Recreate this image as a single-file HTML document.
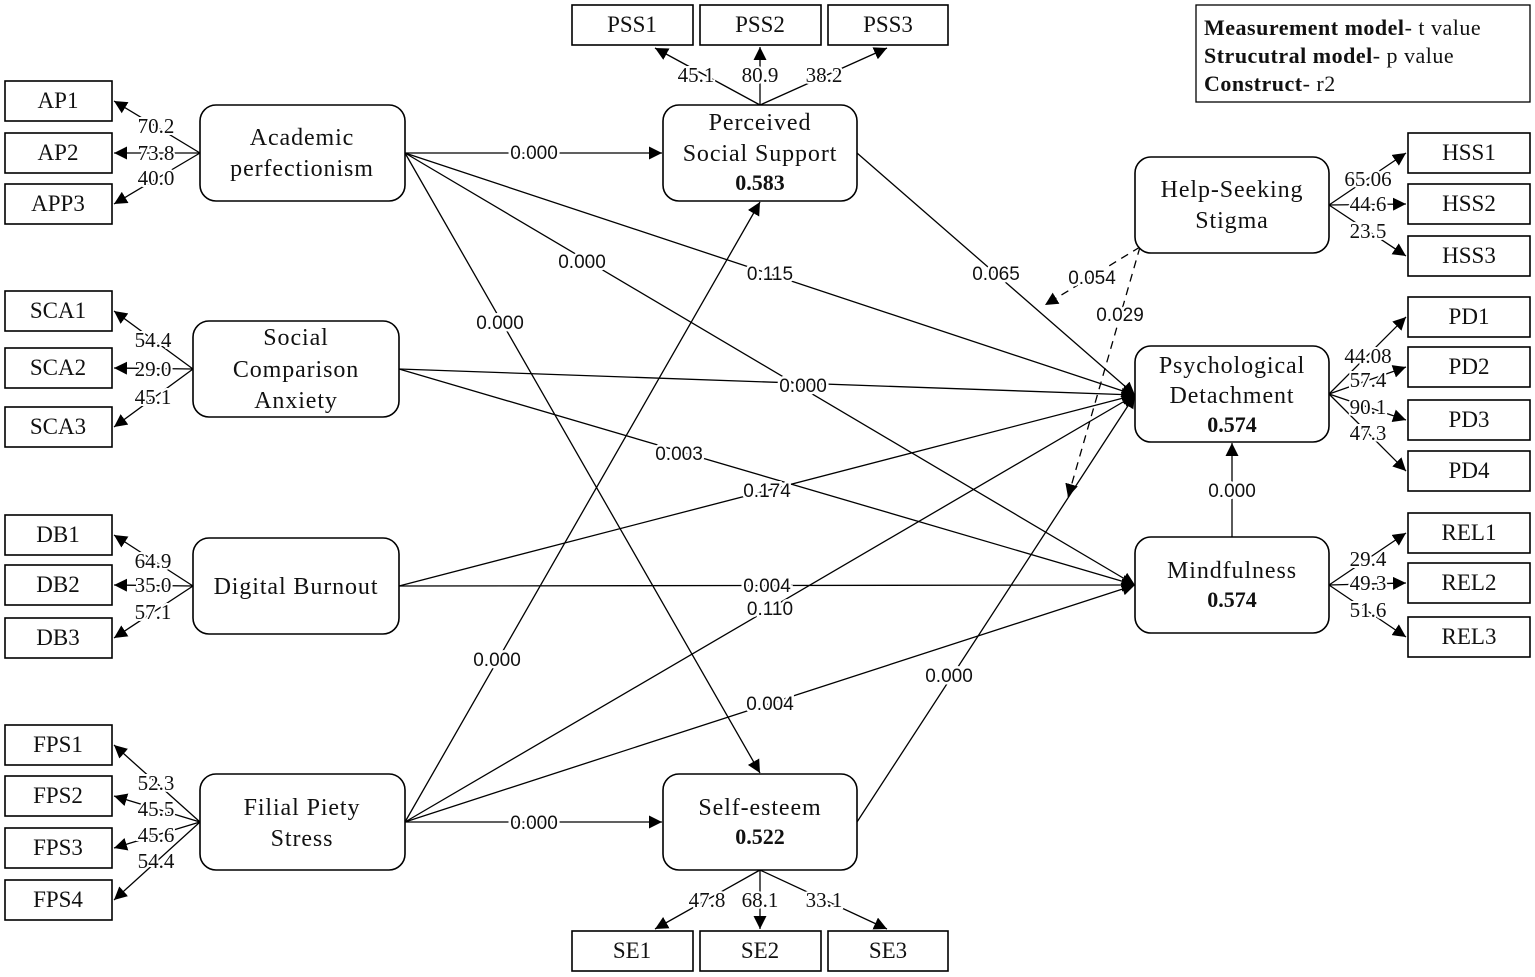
<!DOCTYPE html>
<html><head><meta charset="utf-8"><style>
html,body{margin:0;padding:0;background:#fff;}
svg{display:block;}
.b{fill:#fff;stroke:#000;stroke-width:1.6;}
.t{font-family:"Liberation Serif",serif;font-size:24px;letter-spacing:0.9px;fill:#111;text-anchor:middle;}
.ti{font-family:"Liberation Serif",serif;font-size:23px;fill:#111;text-anchor:middle;}
.tb{font-family:"Liberation Serif",serif;font-size:22px;font-weight:bold;fill:#111;text-anchor:middle;}
.l{stroke:#000;stroke-width:1.3;fill:none;marker-end:url(#ah);}
.d{stroke:#000;stroke-width:1.3;fill:none;stroke-dasharray:8,6;marker-end:url(#ah);}
.n{font-family:"Liberation Sans",sans-serif;font-size:19px;fill:#111;text-anchor:middle;paint-order:stroke;stroke:#fff;stroke-width:5px;}
.s{font-family:"Liberation Serif",serif;font-size:21px;fill:#111;text-anchor:middle;paint-order:stroke;stroke:#fff;stroke-width:4px;}
.lg{font-family:"Liberation Serif",serif;font-size:22px;letter-spacing:0.5px;fill:#111;}
</style></head><body>
<svg width="1535" height="977" viewBox="0 0 1535 977" xmlns="http://www.w3.org/2000/svg">
<defs><marker id="ah" viewBox="0 0 10 10" refX="10" refY="5" markerWidth="13" markerHeight="13" markerUnits="userSpaceOnUse" orient="auto"><path d="M0,0 L10,5 L0,10 z" fill="#000"/></marker></defs>

<line class="l" x1="405" y1="153" x2="662" y2="153"/>
<line class="l" x1="405" y1="153" x2="1135" y2="395"/>
<line class="l" x1="405" y1="153" x2="1135" y2="585"/>
<line class="l" x1="405" y1="153" x2="760" y2="773"/>
<line class="l" x1="399" y1="369" x2="1135" y2="395"/>
<line class="l" x1="399" y1="369" x2="1135" y2="585"/>
<line class="l" x1="399" y1="586" x2="1135" y2="395"/>
<line class="l" x1="399" y1="586" x2="1135" y2="585"/>
<line class="l" x1="405" y1="822" x2="760" y2="202"/>
<line class="l" x1="405" y1="822" x2="1135" y2="395"/>
<line class="l" x1="405" y1="822" x2="1135" y2="585"/>
<line class="l" x1="405" y1="822" x2="662" y2="822"/>
<line class="l" x1="857" y1="153" x2="1135" y2="395"/>
<line class="l" x1="857" y1="822" x2="1135" y2="395"/>
<line class="l" x1="1232" y1="537" x2="1232" y2="443"/>
<line class="d" x1="1140" y1="247" x2="1045" y2="305"/>
<line class="d" x1="1140" y1="247" x2="1068" y2="497"/>

<line class="l" x1="200" y1="153" x2="114" y2="101"/>
<line class="l" x1="200" y1="153" x2="114" y2="153"/>
<line class="l" x1="200" y1="153" x2="114" y2="204"/>
<line class="l" x1="193" y1="369" x2="114" y2="311"/>
<line class="l" x1="193" y1="369" x2="114" y2="368"/>
<line class="l" x1="193" y1="369" x2="114" y2="427"/>
<line class="l" x1="193" y1="586" x2="114" y2="535"/>
<line class="l" x1="193" y1="586" x2="114" y2="585"/>
<line class="l" x1="193" y1="586" x2="114" y2="638"/>
<line class="l" x1="200" y1="822" x2="114" y2="745"/>
<line class="l" x1="200" y1="822" x2="114" y2="796"/>
<line class="l" x1="200" y1="822" x2="114" y2="848"/>
<line class="l" x1="200" y1="822" x2="114" y2="900"/>
<line class="l" x1="760" y1="105" x2="655" y2="48"/>
<line class="l" x1="760" y1="105" x2="760" y2="47"/>
<line class="l" x1="760" y1="105" x2="887" y2="48"/>
<line class="l" x1="760" y1="870" x2="655" y2="929"/>
<line class="l" x1="760" y1="870" x2="760" y2="929"/>
<line class="l" x1="760" y1="870" x2="887" y2="929"/>
<line class="l" x1="1329" y1="205" x2="1406" y2="153"/>
<line class="l" x1="1329" y1="205" x2="1406" y2="204"/>
<line class="l" x1="1329" y1="205" x2="1406" y2="256"/>
<line class="l" x1="1329" y1="394" x2="1406" y2="317"/>
<line class="l" x1="1329" y1="394" x2="1406" y2="367"/>
<line class="l" x1="1329" y1="394" x2="1406" y2="420"/>
<line class="l" x1="1329" y1="394" x2="1406" y2="471"/>
<line class="l" x1="1329" y1="585" x2="1406" y2="533"/>
<line class="l" x1="1329" y1="585" x2="1406" y2="583"/>
<line class="l" x1="1329" y1="585" x2="1406" y2="637"/>

<g>
<rect class="b" x="5" y="81" width="107" height="40"/><text class="ti" x="58" y="108">AP1</text>
<rect class="b" x="5" y="133" width="107" height="40"/><text class="ti" x="58" y="160">AP2</text>
<rect class="b" x="5" y="184" width="107" height="40"/><text class="ti" x="58" y="211">APP3</text>
<rect class="b" x="5" y="291" width="107" height="40"/><text class="ti" x="58" y="318">SCA1</text>
<rect class="b" x="5" y="348" width="107" height="40"/><text class="ti" x="58" y="375">SCA2</text>
<rect class="b" x="5" y="407" width="107" height="40"/><text class="ti" x="58" y="434">SCA3</text>
<rect class="b" x="5" y="515" width="107" height="40"/><text class="ti" x="58" y="542">DB1</text>
<rect class="b" x="5" y="565" width="107" height="40"/><text class="ti" x="58" y="592">DB2</text>
<rect class="b" x="5" y="618" width="107" height="40"/><text class="ti" x="58" y="645">DB3</text>
<rect class="b" x="5" y="725" width="107" height="40"/><text class="ti" x="58" y="752">FPS1</text>
<rect class="b" x="5" y="776" width="107" height="40"/><text class="ti" x="58" y="803">FPS2</text>
<rect class="b" x="5" y="828" width="107" height="40"/><text class="ti" x="58" y="855">FPS3</text>
<rect class="b" x="5" y="880" width="107" height="40"/><text class="ti" x="58" y="907">FPS4</text>
<rect class="b" x="572" y="5" width="121" height="40"/><text class="ti" x="632" y="32">PSS1</text>
<rect class="b" x="700" y="5" width="121" height="40"/><text class="ti" x="760" y="32">PSS2</text>
<rect class="b" x="828" y="5" width="120" height="40"/><text class="ti" x="888" y="32">PSS3</text>
<rect class="b" x="572" y="931" width="121" height="40"/><text class="ti" x="632" y="958">SE1</text>
<rect class="b" x="700" y="931" width="121" height="40"/><text class="ti" x="760" y="958">SE2</text>
<rect class="b" x="828" y="931" width="120" height="40"/><text class="ti" x="888" y="958">SE3</text>
<rect class="b" x="1408" y="133" width="122" height="40"/><text class="ti" x="1469" y="160">HSS1</text>
<rect class="b" x="1408" y="184" width="122" height="40"/><text class="ti" x="1469" y="211">HSS2</text>
<rect class="b" x="1408" y="236" width="122" height="40"/><text class="ti" x="1469" y="263">HSS3</text>
<rect class="b" x="1408" y="297" width="122" height="40"/><text class="ti" x="1469" y="324">PD1</text>
<rect class="b" x="1408" y="347" width="122" height="40"/><text class="ti" x="1469" y="374">PD2</text>
<rect class="b" x="1408" y="400" width="122" height="40"/><text class="ti" x="1469" y="427">PD3</text>
<rect class="b" x="1408" y="451" width="122" height="40"/><text class="ti" x="1469" y="478">PD4</text>
<rect class="b" x="1408" y="513" width="122" height="40"/><text class="ti" x="1469" y="540">REL1</text>
<rect class="b" x="1408" y="563" width="122" height="40"/><text class="ti" x="1469" y="590">REL2</text>
<rect class="b" x="1408" y="617" width="122" height="40"/><text class="ti" x="1469" y="644">REL3</text>
</g>

<rect class="b" x="200" y="105" width="205" height="96" rx="16"/>
<text class="t" x="302" y="145">Academic</text><text class="t" x="302" y="176">perfectionism</text>
<rect class="b" x="193" y="321" width="206" height="96" rx="16"/>
<text class="t" x="296" y="345">Social</text><text class="t" x="296" y="377">Comparison</text><text class="t" x="296" y="408">Anxiety</text>
<rect class="b" x="193" y="538" width="206" height="96" rx="16"/>
<text class="t" x="296" y="594">Digital Burnout</text>
<rect class="b" x="200" y="774" width="205" height="96" rx="16"/>
<text class="t" x="302" y="815">Filial Piety</text><text class="t" x="302" y="846">Stress</text>
<rect class="b" x="663" y="105" width="194" height="96" rx="16"/>
<text class="t" x="760" y="130">Perceived</text><text class="t" x="760" y="161">Social Support</text><text class="tb" x="760" y="190">0.583</text>
<rect class="b" x="663" y="774" width="194" height="96" rx="16"/>
<text class="t" x="760" y="815">Self-esteem</text><text class="tb" x="760" y="844">0.522</text>
<rect class="b" x="1135" y="157" width="194" height="96" rx="16"/>
<text class="t" x="1232" y="197">Help-Seeking</text><text class="t" x="1232" y="228">Stigma</text>
<rect class="b" x="1135" y="346" width="194" height="96" rx="16"/>
<text class="t" x="1232" y="373">Psychological</text><text class="t" x="1232" y="403">Detachment</text><text class="tb" x="1232" y="432">0.574</text>
<rect class="b" x="1135" y="537" width="194" height="96" rx="16"/>
<text class="t" x="1232" y="578">Mindfulness</text><text class="tb" x="1232" y="607">0.574</text>

<rect x="1196" y="5" width="334" height="97" fill="#fff" stroke="#000" stroke-width="1.3"/>
<text class="lg" x="1204" y="35"><tspan font-weight="bold">Measurement model</tspan>- t value</text>
<text class="lg" x="1204" y="63"><tspan font-weight="bold">Strucutral model</tspan>- p value</text>
<text class="lg" x="1204" y="91"><tspan font-weight="bold">Construct</tspan>- r2</text>

<text class="n" x="534" y="159">0.000</text>
<text class="n" x="770" y="280">0.115</text>
<text class="n" x="582" y="268">0.000</text>
<text class="n" x="500" y="329">0.000</text>
<text class="n" x="803" y="392">0.000</text>
<text class="n" x="679" y="460">0.003</text>
<text class="n" x="767" y="497">0.174</text>
<text class="n" x="767" y="592">0.004</text>
<text class="n" x="497" y="666">0.000</text>
<text class="n" x="770" y="615">0.110</text>
<text class="n" x="770" y="710">0.004</text>
<text class="n" x="534" y="829">0.000</text>
<text class="n" x="996" y="280">0.065</text>
<text class="n" x="949" y="682">0.000</text>
<text class="n" x="1232" y="497">0.000</text>
<text class="n" x="1092" y="284">0.054</text>
<text class="n" x="1120" y="321">0.029</text>

<text class="s" x="156" y="133">70.2</text>
<text class="s" x="156" y="160">73.8</text>
<text class="s" x="156" y="185">40.0</text>
<text class="s" x="153" y="347">54.4</text>
<text class="s" x="153" y="376">29.0</text>
<text class="s" x="153" y="404">45.1</text>
<text class="s" x="153" y="568">64.9</text>
<text class="s" x="153" y="592">35.0</text>
<text class="s" x="153" y="619">57.1</text>
<text class="s" x="156" y="790">52.3</text>
<text class="s" x="156" y="816">45.5</text>
<text class="s" x="156" y="842">45.6</text>
<text class="s" x="156" y="868">54.4</text>
<text class="s" x="696" y="82">45.1</text>
<text class="s" x="760" y="82">80.9</text>
<text class="s" x="824" y="82">38.2</text>
<text class="s" x="707" y="907">47.8</text>
<text class="s" x="760" y="907">68.1</text>
<text class="s" x="824" y="907">33.1</text>
<text class="s" x="1368" y="186">65.06</text>
<text class="s" x="1368" y="211">44.6</text>
<text class="s" x="1368" y="238">23.5</text>
<text class="s" x="1368" y="363">44.08</text>
<text class="s" x="1368" y="387">57.4</text>
<text class="s" x="1368" y="414">90.1</text>
<text class="s" x="1368" y="440">47.3</text>
<text class="s" x="1368" y="566">29.4</text>
<text class="s" x="1368" y="590">49.3</text>
<text class="s" x="1368" y="617">51.6</text>
</svg>
</body></html>
